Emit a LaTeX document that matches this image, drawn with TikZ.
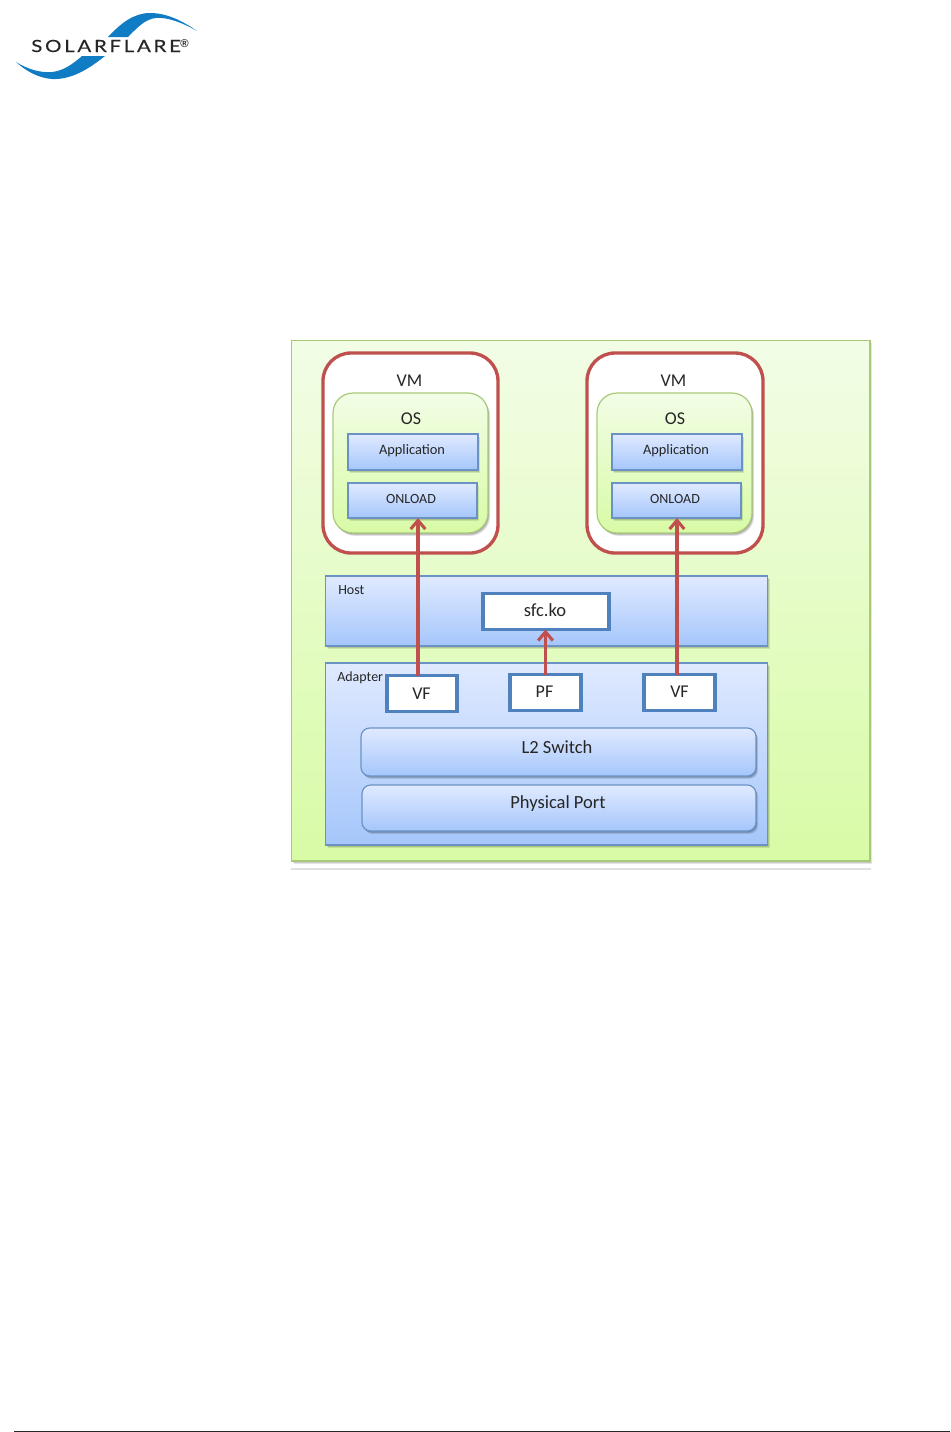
\documentclass[tikz,border=0pt]{standalone}
\usepackage{fontspec}
\setmainfont{Carlito}
\newfontfamily\logofont[LetterSpace=16,FakeStretch=1.22,FakeBold=0.3]{Lato}
\newfontfamily\regfont{Liberation Sans}
\usetikzlibrary{shadows,arrows.meta}
\definecolor{lnblue}{HTML}{6A93C4}
\definecolor{lnwhite}{HTML}{4F81BD}
\definecolor{lnred}{HTML}{C0504D}
\definecolor{lngreen}{HTML}{A9C97A}
\definecolor{logoblue}{HTML}{0F7CC4}
\definecolor{OuterTop}{HTML}{F2FDE6}
\definecolor{OuterBot}{HTML}{D8FBA6}
\definecolor{BlueTop}{HTML}{E0EAFF}
\definecolor{BlueBot}{HTML}{A5C6FB}
\tikzset{
  x=0.75pt,y=-0.75pt,
  sz/.style 2 args={minimum width=#1*0.75pt,minimum height=#2*0.75pt,inner sep=0pt,outer sep=0pt},
  softshadow/.style={
    drop shadow={shadow xshift=1.6pt,shadow yshift=-2.2pt,opacity=.10,fill=black},
    drop shadow={shadow xshift=1.1pt,shadow yshift=-1.6pt,opacity=.12,fill=black},
    drop shadow={shadow xshift=0.6pt,shadow yshift=-1pt,opacity=.14,fill=black}},
  outerbox/.style={rectangle,draw=lngreen,line width=0.9pt,top color=OuterTop,bottom color=OuterBot,softshadow},
  osbox/.style={rectangle,rounded corners=15pt,draw=lngreen,line width=0.9pt,top color=OuterTop,bottom color=OuterBot,softshadow},
  vmbox/.style={rectangle,rounded corners=21pt,draw=lnred,line width=2.5pt,fill=white},
  bluebox/.style={rectangle,draw=lnblue,line width=0.9pt,top color=BlueTop,bottom color=BlueBot,softshadow},
  roundblue/.style={bluebox,rounded corners=6.5pt},
  whitebox/.style={rectangle,draw=lnwhite,line width=2.5pt,fill=white},
  big/.style={font=\fontsize{13.5}{15}\selectfont,text=black!85,inner sep=0pt},
  bigwide/.style={font=\fontsize{13.9}{15}\selectfont,text=black!85,inner sep=0pt},
  small/.style={font=\fontsize{10.5}{12}\selectfont,text=black!85,inner sep=0pt},
  smallwide/.style={font=\fontsize{10.8}{12}\selectfont,text=black!85,inner sep=0pt},
  flow/.style={draw=lnred,line width=2.8pt,-{Straight Barb[length=6.5pt,width=11pt,line width=2.3pt]}},
}
\begin{document}
\begin{tikzpicture}
\useasboundingbox (0,0) rectangle (950,1432);
% logo
\fill[logoblue] (108,37) .. controls (121,23) and (134,13) .. (150,13)
  .. controls (168,13) and (184,22) .. (197,31)
  .. controls (183,23) and (168,17) .. (156,18)
  .. controls (145,19) and (137,28) .. (128,37) -- cycle;
\fill[logoblue] (105,56) .. controls (90,68) and (72,80) .. (52,79)
  .. controls (38,78) and (26,71) .. (16,62)
  .. controls (27,69) and (40,73) .. (52,72)
  .. controls (63,71) and (73,64) .. (82,56) -- cycle;
\node[anchor=base west,inner sep=0pt,font=\logofont\fontsize{12.6}{14}\selectfont,text=black!85] (logotext) at (31,52) {SOLARFLARE};
\node[anchor=base west,inner sep=0pt,font=\regfont\bfseries\fontsize{8.5}{9}\selectfont,text=black!85] (logoreg) at (180,47.5) {®};
% rule under the outer panel and page rule
\fill[black!12] (291,868) rectangle (871,870);
\draw[black!85,line width=0.75pt] (14,1431) -- (950,1431);
% outer panel
\node[outerbox,sz={578.5}{520.5}] (panel) at (580.75,600.75) {};
% VMs
\node[vmbox,sz={175}{200}] (vma) at (410.5,453) {};
\node[vmbox,sz={176}{200}] (vmb) at (675,453) {};
\node[osbox,sz={155}{140}] (osa) at (410.5,463) {};
\node[osbox,sz={155}{140}] (osb) at (674.5,463) {};
\node[bluebox,sz={130}{36}] (appa) at (413,452) {};
\node[bluebox,sz={130}{36}] (appb) at (677,452) {};
\node[bluebox,sz={129}{35}] (onla) at (412.5,500.5) {};
\node[bluebox,sz={129}{35}] (onlb) at (676.5,500.5) {};
\node[big] (tvma) at (409.5,381) {VM};
\node[big] (tvmb) at (673.5,381) {VM};
\node[big] (tosa) at (411,418.5) {OS};
\node[big] (tosb) at (675,418.5) {OS};
\node[smallwide] (tappa) at (412,450.5) {Application};
\node[smallwide] (tappb) at (676,450.5) {Application};
\node[small] (tonla) at (411,498.5) {ONLOAD};
\node[small] (tonlb) at (675,498.5) {ONLOAD};
% host
\node[bluebox,sz={442}{70}] (host) at (546.5,611) {};
\node[small,anchor=west] (thost) at (338,590) {Host};
% adapter
\node[bluebox,sz={442}{182}] (adapter) at (546.5,754) {};
\node[small,anchor=west] (tadapter) at (337,677.5) {Adapter};
\node[roundblue,sz={395}{48}] (l2) at (558.5,752) {};
\node[roundblue,sz={394}{46}] (phys) at (559,808) {};
\node[bigwide] (tl2) at (557,747) {L2 Switch};
\node[bigwide] (tphys) at (558,803.5) {Physical Port};
% white boxes
\node[whitebox,sz={126}{36}] (sfc) at (546,611.5) {};
\node[whitebox,sz={70}{36}] (vfa) at (422,693.5) {};
\node[whitebox,sz={71}{36}] (pf) at (545.5,692.5) {};
\node[whitebox,sz={71}{36}] (vfb) at (679.5,692.5) {};
\node[bigwide] (tsfc) at (545,610.5) {sfc.ko};
\node[big] (tvfa) at (421.5,693.5) {VF};
\node[big] (tpf) at (544.5,692) {PF};
\node[big] (tvfb) at (679.5,692) {VF};
% arrows
\coordinate (sa) at ([xshift=-3pt]vfa.north);
\coordinate (sb) at ([xshift=-1.9pt]vfb.north);
\draw[flow] (sa) -- (sa |- onla.south);
\draw[flow] (pf.north) -- (pf.north |- sfc.south);
\draw[flow] (sb) -- (sb |- onlb.south);
\end{tikzpicture}
\end{document}
